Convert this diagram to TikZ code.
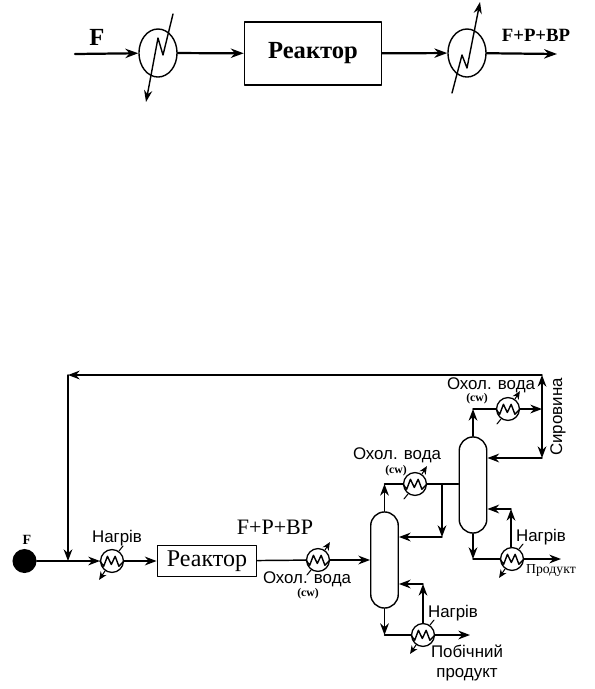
\documentclass[tikz,border=0pt]{standalone}
\usepackage{fontspec}
\setmainfont{Liberation Serif}
\setsansfont{Liberation Sans}
\usetikzlibrary{arrows.meta,shapes.geometric}
\tikzset{
  flowt/.style={line width=1.9pt, -{Stealth[length=11pt,width=8pt]}},
  flowb/.style={line width=1.25pt, -{Stealth[length=10pt,width=7.5pt]}},
  lineb/.style={line width=1.25pt},
  hxbig/.style={ellipse, draw, line width=1.2pt, minimum width=32.5pt, minimum height=41pt, inner sep=0pt},
  hxsmall/.style={circle, draw, line width=1.1pt, minimum size=19.5pt, inner sep=0pt},
  colmn/.style={rectangle, draw, line width=1.2pt, minimum width=23.5pt, rounded corners=11.7pt},
  boxt/.style={rectangle, draw, line width=1.3pt, minimum width=117pt, minimum height=53.5pt, font=\bfseries\fontsize{21}{24}\selectfont},
  boxb/.style={rectangle, draw, line width=1.1pt, minimum width=85pt, minimum height=27pt, font=\fontsize{20.5}{24}\selectfont},
  lab/.style={inner sep=0pt, font=\sffamily\fontsize{14.4}{17}\selectfont},
  cwlab/.style={inner sep=0pt, font=\bfseries\fontsize{10}{12}\selectfont},
  every picture/.style={line cap=round, line join=round}
}
% zigzag inside a small exchanger
\newcommand{\zigsmall}[1]{
  \draw[line width=1.2pt] (#1.west) -- ++(3.2pt,-4.5pt) -- ++(3.2pt,8.5pt) -- ++(3.3pt,-7pt) -- ++(3.3pt,7pt) -- ++(3.2pt,-8.5pt) -- (#1.east);
}
\begin{document}
\begin{tikzpicture}[x=0.03cm,y=-0.03cm]
  \useasboundingbox (0,0) rectangle (595,689);
  % upper scheme
  \coordinate (fin) at (75,54);
  \coordinate (fout) at (557,54);
  \node[hxbig] (hta) at (158,53) {};
  \node[hxbig] (htb) at (467,53) {};
  \node[boxt] (rt) at (313,53.5) {\raisebox{-3.5pt}{Реактор}};
  \node[inner sep=0pt, font=\bfseries\fontsize{21}{24}\selectfont] (ft) at (97,37) {F};
  \node[inner sep=0pt, font=\bfseries\fontsize{16}{18}\selectfont] (fpt) at (536,35) {F+P+BP};
  \draw[flowt] (fin)--(hta);
  \draw[flowt] (hta)--(rt);
  \draw[flowt] (rt)--(htb);
  \draw[flowt] (htb)--(fout);
  \coordinate (hta1) at (173,14);
  \coordinate (hta2) at (163,55);
  \coordinate (hta3) at (158,38);
  \coordinate (hta4) at (146,102);
  \draw[line width=1.2pt, -{Stealth[length=10pt,width=7pt]}] (hta1)--(hta2)--(hta3)--(hta4);
  \coordinate (htb1) at (452,93);
  \coordinate (htb2) at (462,55);
  \coordinate (htb3) at (467,68);
  \coordinate (htb4) at (480,2);
  \draw[line width=1.2pt, -{Stealth[length=10pt,width=7pt]}] (htb1)--(htb2)--(htb3)--(htb4);

  % lower scheme
  \node[circle, fill=black, minimum size=20.5pt, inner sep=0pt] (feed) at (24.5,561) {};
  \node[inner sep=0pt, font=\bfseries\fontsize{12}{14}\selectfont] (fb) at (27,540) {F};
  \node[boxb] (rb) at (207,561) {\raisebox{-1.5pt}{Реактор}};
  \node[hxsmall] (ha) at (112,561) {};
  \node[hxsmall] (hb) at (318,560) {};
  \node[hxsmall] (hc) at (415,484) {};
  \node[hxsmall] (hd) at (508,409) {};
  \node[hxsmall] (he) at (512,559) {};
  \node[hxsmall] (hf) at (423,635) {};
  \node[colmn, minimum height=82pt] (cola) at (384.5,560) {};
  \node[colmn, minimum height=82pt] (colb) at (473,485) {};
  \zigsmall{ha}
  \zigsmall{hb}
  \zigsmall{hc}
  \zigsmall{hd}
  \zigsmall{he}
  \zigsmall{hf}

  % junctions
  \coordinate (jrec) at (68,561);
  \coordinate (jtl) at (68,375);
  \coordinate (jtr) at (542,375);
  \coordinate (jmid) at (542,409);
  \coordinate (jlow) at (542,458);
  \coordinate (jca) at (384.5,484);
  \coordinate (jcb) at (442,484);
  \coordinate (jcc) at (442,537);
  \coordinate (jda) at (473,409);
  \coordinate (jea) at (473,559);
  \coordinate (jeb) at (511,509);
  \coordinate (jfa) at (384.5,635);
  \coordinate (jfb) at (423,584);
  \coordinate (oute) at (561,559);
  \coordinate (outf) at (470,635);

  \draw[lineb] (feed)--(jrec);
  \draw[flowb] (jrec)--(ha);
  \draw[flowb] (ha)--(rb);
  \draw[lineb] (rb)--(hb);
  \draw[flowb] (hb)--(cola.west|-hb);
  \draw[flowb] (jtr)--(jtl);
  \draw[flowb] (jtl)--(jrec);
  \draw[flowb] (cola.north)--(jca);
  \draw[lineb] (jca)--(hc);
  \draw[lineb] (hc)--(colb.west|-hc);
  \draw[flowb] (jcb)--(jcc);
  \draw[flowb] (jcc)--(cola.east|-jcc);
  \draw[flowb] (colb.north)--(jda);
  \draw[lineb] (jda)--(hd);
  \draw[flowb] (hd)--(jmid);
  \draw[flowb] (jmid)--(jtr);
  \draw[flowb] (jmid)--(jlow);
  \draw[flowb] (jlow)--(colb.east|-jlow);
  \draw[flowb] (colb.south)--(jea);
  \draw[lineb] (jea)--(he);
  \draw[flowb] (he)--(oute);
  \draw[flowb] (he.north-|jeb)--(jeb);
  \draw[flowb] (jeb)--(colb.east|-jeb);
  \draw[flowb] (cola.south)--(jfa);
  \draw[lineb] (jfa)--(hf);
  \draw[flowb] (hf)--(outf);
  \draw[flowb] (hf.north)--(jfb);
  \draw[flowb] (jfb)--(cola.east|-jfb);

  % utility ticks: heating goes down-left, cooling goes up-right
  \foreach \h in {ha,he,hf}{
    \draw[line width=0.9pt] (\h.55) -- ++(4,-5);
    \draw[line width=0.9pt, -{Stealth[length=7pt,width=6pt]}] (\h.-125) -- ++(-6,9);
  }
  \foreach \h in {hb,hc,hd}{
    \draw[line width=0.9pt] (\h.-125) -- ++(-4,5);
    \draw[line width=0.9pt, -{Stealth[length=7pt,width=6pt]}] (\h.55) -- ++(5,-8);
  }

  % labels
  \node[lab] (na) at (117,538) {Нагрів};
  \node[inner sep=0pt, font=\fontsize{18.8}{22}\selectfont] (fpb) at (275,527) {F+P+BP};
  \node[lab] (oa) at (307,579) {Охол. вода};
  \node[cwlab] (cwa) at (308,594) {(cw)};
  \node[lab] (ob) at (397,455) {Охол. вода};
  \node[cwlab] (cwb) at (396,471) {(cw)};
  \node[lab] (oc) at (491,385) {Охол. вода};
  \node[cwlab] (cwc) at (477,399) {(cw)};
  \node[lab, rotate=90] (sy) at (558,417) {Сировина};
  \node[lab] (nb) at (541,537) {Нагрів};
  \node[inner sep=0pt, font=\fontsize{11.7}{14}\selectfont] (pr) at (551,570) {Продукт};
  \node[lab] (nc) at (453,613) {Нагрів};
  \node[lab, align=center] (pb) at (467,663) {Побічний\\продукт};
\end{tikzpicture}
\end{document}
